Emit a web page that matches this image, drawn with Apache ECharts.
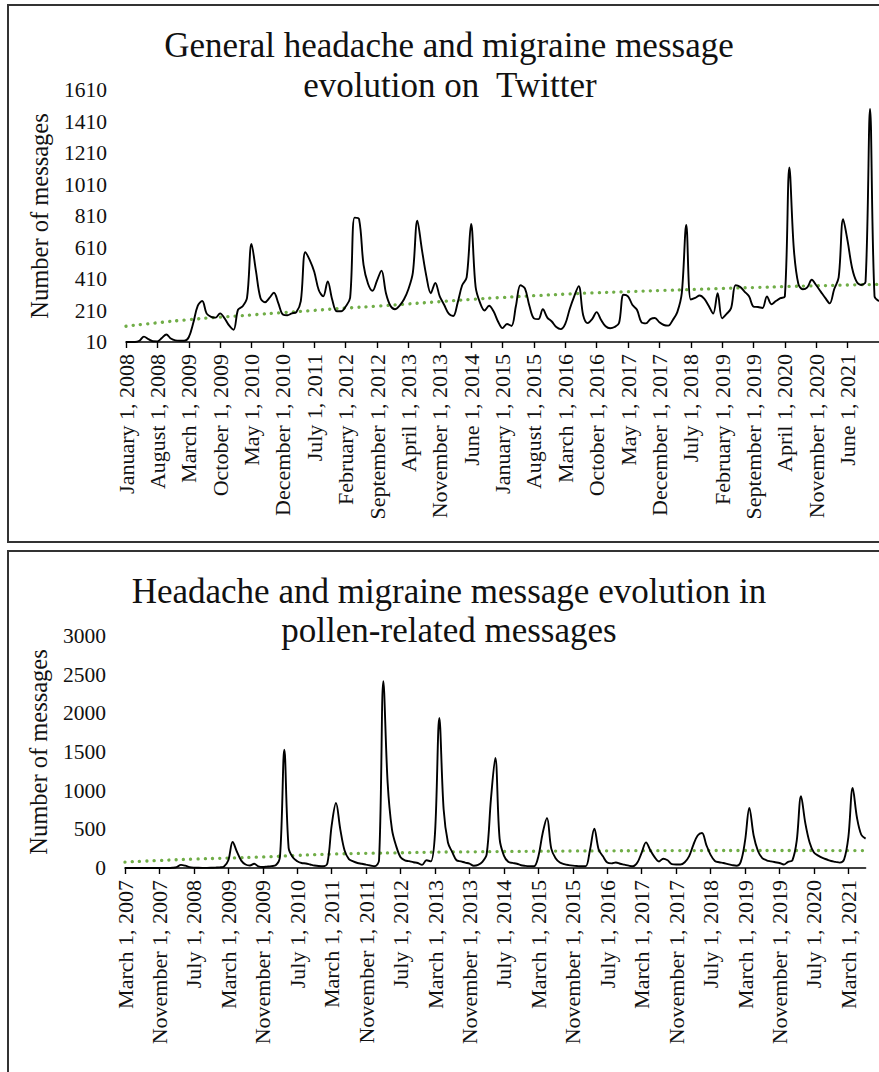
<!DOCTYPE html>
<html><head><meta charset="utf-8">
<script src="https://cdn.jsdelivr.net/npm/echarts@6/dist/echarts.min.js"></script>
<style>html,body{margin:0;padding:0;background:#fff}#c{width:879px;height:1072px}</style>
</head><body><div id="c"></div>
<script>
// ---------- DATA ----------
const monthNames = ['January','February','March','April','May','June','July','August','September','October','November','December'];

// Top chart: monthly, January 2008 .. January 2022
const topStartYear = 2008, topStartMonth = 0, topCount = 169;
const topLabelStep = 7, topLastLabel = 161;
const topYTicks = [10, 210, 410, 610, 810, 1010, 1210, 1410, 1610];
const topValues = [
  10,10,10,18,44,28,15,14,35,58,
  32,20,18,18,40,130,240,270,190,170,
  165,192,160,115,88,215,236,290,632,460,
  290,262,290,323,255,185,180,192,200,270,
  580,530,456,340,300,395,280,205,205,235,
  290,800,790,500,380,335,400,463,320,240,
  218,240,280,345,450,780,600,430,320,385,
  300,245,190,175,260,370,420,759,360,258,
  210,240,205,140,98,124,112,240,370,350,
  240,160,155,218,165,140,105,92,125,220,
  300,365,180,130,155,200,150,110,97,105,
  130,310,300,245,215,135,128,155,162,135,
  118,114,150,200,320,753,280,290,305,285,
  240,190,320,160,188,225,370,360,330,300,
  235,232,226,300,250,270,288,300,1119,600,
  380,345,357,405,370,330,290,255,345,420,
  789,650,480,393,372,393,1490,300,270
];
const topTrend = [110,132,152,168,182,197,211,225,238,252,266,280,293,304,314,323,330,337,343,350,356,362,367,372,376];

// Bottom chart: monthly, March 2007 .. July 2021
const botStartYear = 2007, botStartMonth = 2, botCount = 173;
const botLabelStep = 8;
const botYTicks = [0, 500, 1000, 1500, 2000, 2500, 3000];
const botValues = [
  0,0,0,0,0,0,0,0,0,0,
  0,3,12,40,30,12,5,3,2,2,
  3,5,8,20,100,336,210,95,45,32,
  55,20,12,18,25,35,150,1530,260,135,
  88,65,58,45,32,25,22,60,550,840,
  500,225,115,85,65,55,43,32,22,100,
  2414,1100,500,280,140,100,88,75,65,40,
  100,86,453,1940,760,330,205,100,86,70,
  56,30,40,80,180,900,1422,380,160,80,
  66,55,35,28,24,22,150,450,647,250,
  125,70,50,38,30,25,22,22,237,509,
  240,151,70,60,72,55,43,30,22,70,
  200,332,230,140,85,120,100,50,45,45,
  75,150,300,420,453,300,170,90,75,65,
  50,38,30,80,350,776,420,220,129,100,
  86,75,65,45,80,100,350,927,580,330,
  200,160,130,110,90,80,70,110,400,1034,
  650,430,380
];
const botTrendIdx = [0,8,16,24,32,40,48,56,64,72,80,88,96,104,112,120,128,136,144,152,160,168,172];
const botTrend = [77,98,115,129,143,163,180,190,197,205,209,213,217,220,222,224,225,226,226,226,226,225,225];

// ---------- BUILD ----------
function makeCats(y, m, n) {
  const out = [];
  for (let i = 0; i < n; i++) {
    const t = m + i;
    out.push(monthNames[t % 12] + ' 1, ' + (y + Math.floor(t / 12)));
  }
  return out;
}
const topCats = makeCats(topStartYear, topStartMonth, topCount);
const botCats = makeCats(botStartYear, botStartMonth, botCount);
const topTrendData = topTrend.map((v, i) => [i * topLabelStep, v]);
const botTrendData = botTrend.map((v, i) => [botTrendIdx[i], v]);

const FONT = '"Liberation Serif", "Times New Roman", serif';
const INK = '#111';

function xAxisCfg(gridIndex, cats, showFn) {
  return {
    type: 'category', gridIndex, data: cats, boundaryGap: false,
    axisLine: { show: true, lineStyle: { color: '#000', width: 1.6 } },
    axisTick: { show: true, interval: showFn, length: 6, lineStyle: { color: '#000', width: 1.4 } },
    axisLabel: { show: true, interval: showFn, rotate: 90, margin: 12,
      fontFamily: FONT, fontSize: 22, color: INK },
    splitLine: { show: false }
  };
}
function yAxisCfg(gridIndex, min, max, ticks) {
  return {
    type: 'value', gridIndex, min, max,
    name: 'Number of messages', nameLocation: 'middle', nameGap: 74,
    nameTextStyle: { fontFamily: FONT, fontSize: 24.5, color: INK },
    axisLine: { show: false }, axisTick: { show: false }, splitLine: { show: false },
    axisLabel: { customValues: ticks, margin: 19, fontFamily: FONT, fontSize: 21.5, color: INK,
      formatter: (v) => String(v) }
  };
}

const chart = echarts.init(document.getElementById('c'), null, { renderer: 'svg' });
chart.setOption({
  animation: false,
  backgroundColor: '#fff',
  grid: [
    { left: 126, right: 0, top: 90, height: 252, outerBoundsMode: 'none', containLabel: false },
    { left: 125, right: 13.4, top: 636, height: 232, outerBoundsMode: 'none', containLabel: false }
  ],
  xAxis: [
    xAxisCfg(0, topCats, (i) => i % topLabelStep === 0 && i <= topLastLabel),
    xAxisCfg(1, botCats, (i) => i % botLabelStep === 0)
  ],
  yAxis: [
    yAxisCfg(0, 10, 1610, topYTicks),
    yAxisCfg(1, 0, 3000, botYTicks)
  ],
  series: [
    { type: 'line', xAxisIndex: 0, yAxisIndex: 0, data: topValues, smooth: 0.35, symbol: 'none',
      lineStyle: { color: '#000', width: 1.9 }, z: 3 },
    { type: 'line', xAxisIndex: 0, yAxisIndex: 0, data: topTrendData, smooth: true, symbol: 'none',
      lineStyle: { color: '#70AD47', width: 3.3, type: [0.1, 7.2], cap: 'round' }, z: 2 },
    { type: 'line', xAxisIndex: 1, yAxisIndex: 1, data: botValues, smooth: 0.35, symbol: 'none',
      lineStyle: { color: '#000', width: 1.9 }, z: 3 },
    { type: 'line', xAxisIndex: 1, yAxisIndex: 1, data: botTrendData, smooth: true, symbol: 'none',
      lineStyle: { color: '#70AD47', width: 3.3, type: [0.1, 7.2], cap: 'round' }, z: 2 }
  ],
  graphic: [
    { type: 'rect', shape: { x: 8, y: 5, width: 900, height: 537 }, style: { fill: 'none', stroke: '#333', lineWidth: 2 }, z: 0 },
    { type: 'rect', shape: { x: 8, y: 551, width: 900, height: 600 }, style: { fill: 'none', stroke: '#333', lineWidth: 2 }, z: 0 },
    { type: 'text', x: 449, y: 45, style: { text: 'General headache and migraine message', font: '35px ' + FONT, fill: INK, align: 'center', verticalAlign: 'middle' } },
    { type: 'text', x: 450, y: 85, style: { text: 'evolution on  Twitter', font: '35px ' + FONT, fill: INK, align: 'center', verticalAlign: 'middle' } },
    { type: 'text', x: 449, y: 591, style: { text: 'Headache and migraine message evolution in', font: '35px ' + FONT, fill: INK, align: 'center', verticalAlign: 'middle' } },
    { type: 'text', x: 449, y: 630, style: { text: 'pollen-related messages', font: '35px ' + FONT, fill: INK, align: 'center', verticalAlign: 'middle' } }
  ]
});
</script>
</body></html>
